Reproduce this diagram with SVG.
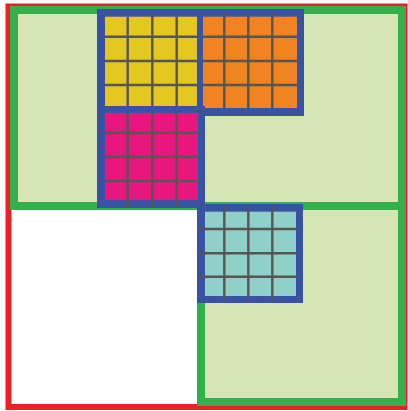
<svg xmlns="http://www.w3.org/2000/svg" width="408" height="411" viewBox="0 0 408 411">
<style>
.frame{fill:none;stroke-linejoin:miter}
.blue{fill:#3A52A2}
.grid{stroke:#555555;stroke-width:2.4;fill:none}
</style>
<rect width="408" height="411" fill="#ffffff"/>
<g id="outer">
<rect x="8.5" y="6.5" width="396" height="400.5" fill="#ffffff" stroke="#EC1E26" stroke-width="6"/>
</g>
<g id="top-region">
<rect x="14" y="10" width="388" height="196" fill="#D6E5B6" stroke="#33B04B" stroke-width="8"/>
</g>
<g id="bottom-region">
<rect x="201" y="206" width="201" height="196" fill="#D6E5B6" stroke="#33B04B" stroke-width="8"/>
</g>
<g id="block-yellow">
<rect class="blue" x="97" y="9" width="104" height="104"/>
<rect x="105" y="16.7" width="92" height="89.3" fill="#E5C722"/>
<path class="grid" d="M127.7 16.7V106M152.3 13V106M176.7 16.7V106M105 36.7H197M105 61H197M105 85H197"/>
</g>
<g id="block-orange">
<rect class="blue" x="197" y="9" width="107" height="107"/>
<rect x="203" y="16.7" width="94" height="91.3" fill="#F18421"/>
<path class="grid" d="M224.3 13.3V108M248.3 13.3V108M272.3 13.3V108M203 36.7H297M203 61H299.5M203 85H299.5"/>
</g>
<g id="block-magenta">
<rect class="blue" x="97" y="106" width="108" height="102"/>
<rect x="105" y="113" width="93" height="87" fill="#E8177D"/>
<path class="grid" d="M127.7 113V208M152.3 110V208M176.7 113V208M105 132.7H200M105 156.7H200M105 181H200"/>
</g>
<g id="block-teal">
<rect class="blue" x="197" y="204" width="106" height="99"/>
<rect x="205" y="211.7" width="91" height="84.3" fill="#8FD1C9"/>
<path class="grid" d="M224.3 205V300M248.3 205V300M272.3 205V300M200 229H297M200 253.3H297M200 276.7H297"/>
</g>
</svg>
